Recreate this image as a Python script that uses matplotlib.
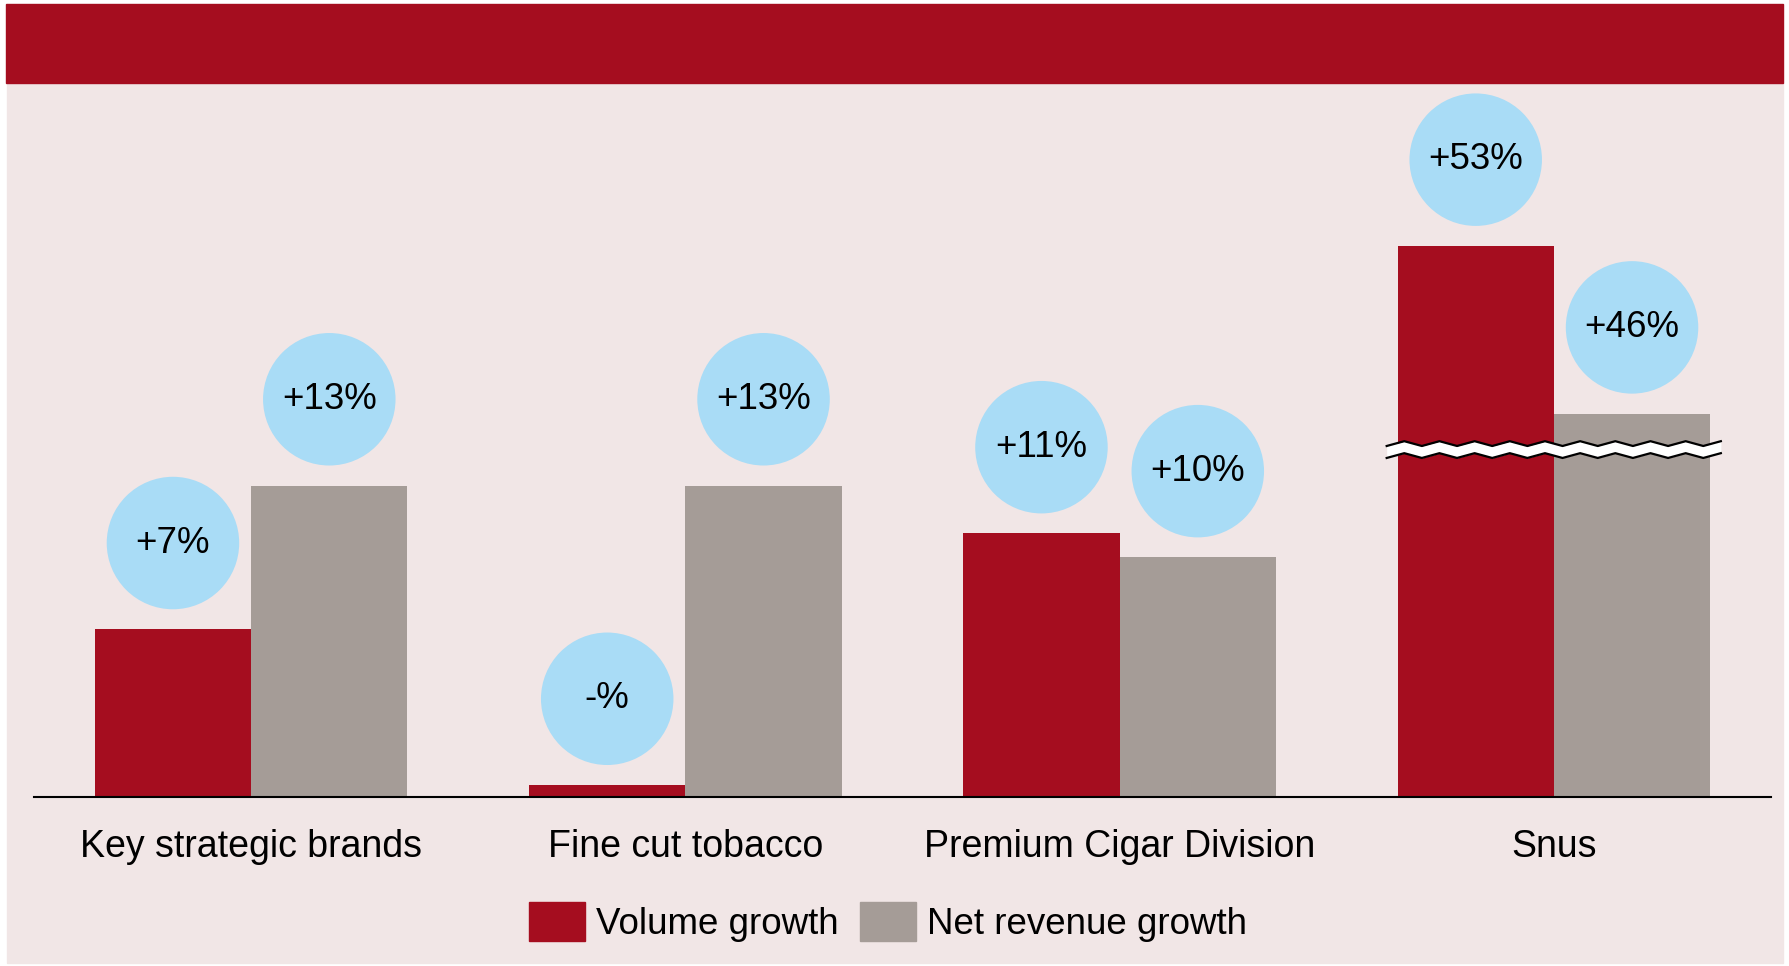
import matplotlib.pyplot as plt
import numpy as np
from matplotlib.patches import Rectangle, Patch

plt.rcParams["font.family"] = ["Liberation Sans", "DejaVu Sans"]

RED = "#A50D1F"
GREY = "#A59C97"
BUBBLE = "#A9DCF6"
PANEL = "#F1E6E6"

categories = ["Key strategic brands", "Fine cut tobacco", "Premium Cigar Division", "Snus"]
volume_growth = [7, 0.5, 11, 53]
revenue_growth = [13, 13, 10, 46]
volume_labels = ["+7%", "-%", "+11%", "+53%"]
revenue_labels = ["+13%", "+13%", "+10%", "+46%"]

# broken axis: anything above BREAK_AT is drawn AXIS_GAP points lower
BREAK_AT = 14.5
AXIS_GAP = 30


def shown(v):
    return v - AXIS_GAP if v > BREAK_AT else v


W, H = 1789, 966
fig = plt.figure(figsize=(W / 100, H / 100), dpi=100, facecolor="white")

# panel background and header band, in figure pixels
fig.patches.append(Rectangle((7 / W, 3 / H), 1776 / W, (883 - 3) / H,
                             transform=fig.transFigure, color=PANEL, zorder=-2))
fig.patches.append(Rectangle((6 / W, 1 - 83 / H), 1777 / W, 79 / H,
                             transform=fig.transFigure, color=RED, zorder=-1))

ax = fig.add_axes([34 / W, 1 - 797 / H, (1771 - 34) / W, (797 - 83) / H])
ax.set_facecolor("none")
ax.set_xlim(-0.5, 3.5)
ax.set_ylim(0, 29.8)

x = np.arange(len(categories))
bw = 0.36
vol_h = [shown(v) for v in volume_growth]
rev_h = [shown(v) for v in revenue_growth]
ax.bar(x - bw / 2, vol_h, bw, color=RED, zorder=2)
ax.bar(x + bw / 2, rev_h, bw, color=GREY, zorder=2)

# value bubbles above each bar
offset = 3.6
for xs, hs, labels in ((x - bw / 2, vol_h, volume_labels), (x + bw / 2, rev_h, revenue_labels)):
    for xi, hi, lab in zip(xs, hs, labels):
        ax.scatter([xi], [hi + offset], s=9100, color=BUBBLE, edgecolors="none", zorder=3,
                   clip_on=False)
        ax.text(xi, hi + offset, lab, ha="center", va="center", fontsize=26.5, zorder=4)

# zigzag break marker across the Snus bars
i = categories.index("Snus")
zx = np.arange(i - 0.385, i + 0.41 + 1e-9, 0.0405)
zig = np.where(np.arange(len(zx)) % 2 == 0, -0.1, 0.1)
upper = BREAK_AT + 0.25 + zig
lower = BREAK_AT - 0.25 + zig
ax.fill_between(zx, lower, upper, color="white", lw=0, zorder=5)
ax.plot(zx, upper, color="black", lw=1.6, zorder=6)
ax.plot(zx, lower, color="black", lw=1.6, zorder=6)

for s in ("top", "right", "left"):
    ax.spines[s].set_visible(False)
ax.spines["bottom"].set_linewidth(1.5)
ax.spines["bottom"].set_zorder(7)
ax.set_yticks([])
ax.set_xticks(x)
ax.set_xticklabels(categories, fontsize=27)
ax.tick_params(axis="x", length=0, pad=23)

handles = [Patch(color=RED, label="Volume growth"), Patch(color=GREY, label="Net revenue growth")]
fig.legend(handles=handles, loc="center", bbox_to_anchor=(888 / W, 1 - 922 / H), ncol=2,
           frameon=False, fontsize=26.5, handlelength=1.52, handleheight=1.25,
           handletextpad=0.3, columnspacing=0.6)

fig.savefig("out.png", dpi=100, facecolor="white")
